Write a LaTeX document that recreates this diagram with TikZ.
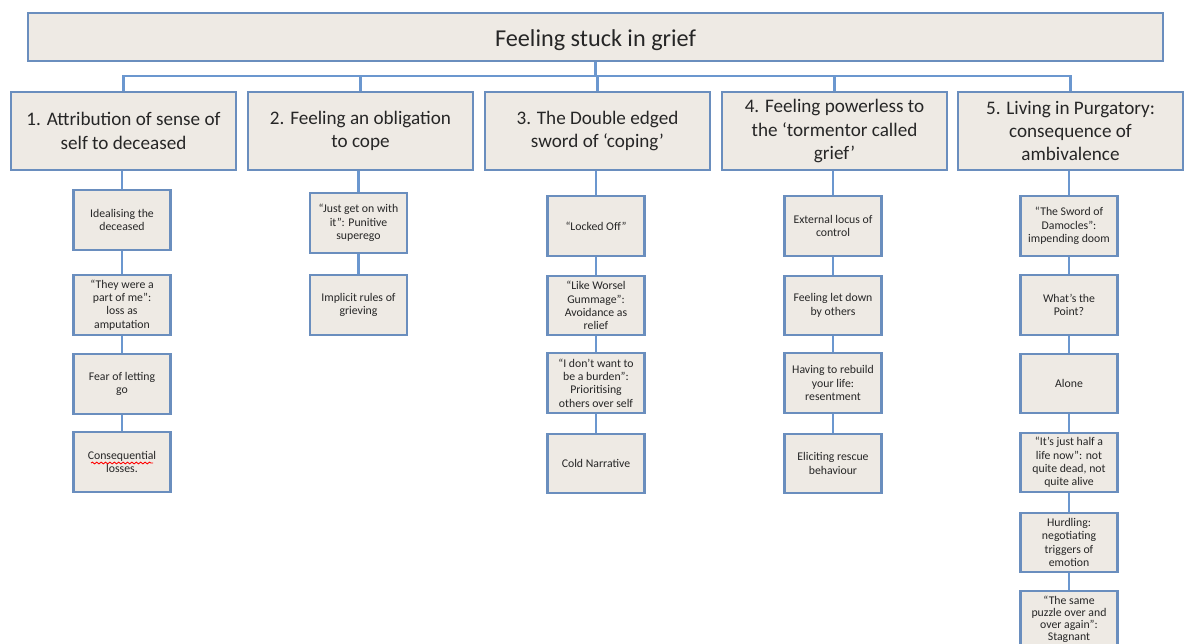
\documentclass[tikz,border=0pt]{standalone}
\usepackage{fontspec}
\setmainfont{Carlito}
\usetikzlibrary{decorations.pathmorphing}
\definecolor{caixa}{HTML}{EEEAE4}
\definecolor{borda}{HTML}{6A8EBE}
\definecolor{ligacao}{HTML}{6B97CF}
\begin{document}
\begin{tikzpicture}[x=0.02cm, y=-0.02cm,
  box/.style={draw=borda, line width=1.4pt, fill=caixa, inner sep=0pt, align=center, text=black!85},
  tema/.style={box, minimum width=4.5cm, minimum height=1.56cm, font=\fontsize{10.9}{13.3}\selectfont},
  sub/.style={box, minimum width=1.94cm, minimum height=1.19cm, font=\fontsize{6.7}{7.6}\selectfont},
  link/.style={draw=ligacao, line width=1.2pt}]
\clip (0,0) rectangle (1191,643);
% Titulo
\node[box, minimum width=22.7cm, minimum height=0.96cm, text height=12pt, text depth=1pt,
  font=\fontsize{13.8}{16}\selectfont] (top) at (595.5,37) {Feeling stuck in grief};
% Temas
\node[tema] (c1) at (123.5,131) {1. Attribution of sense of\\self to deceased};
\node[tema] (c2) at (360.5,131) {2. Feeling an obligation\\to cope};
\node[tema] (c3) at (597.5,131) {3. The Double edged\\sword of ‘coping’};
\node[tema] (c4) at (834.5,131) {4. Feeling powerless to\\the ‘tormentor called\\grief’};
\node[tema] (c5) at (1070.5,131) {5. Living in Purgatory:\\consequence of\\ambivalence};
\foreach \c in {c1,c2,c3,c4,c5}
  \draw[link] (top.south) -- ++(0,14) -| (\c.north);
% Coluna 1
\node[sub] (a1) at (122,220) {Idealising the\\deceased};
\node[sub] (a2) at (122,305) {“They were a\\part of me”:\\loss as\\amputation};
\node[sub] (a3) at (122,384) {Fear of letting\\go};
\node[sub] (a4) at (122,462) {Consequential\\losses.};
\draw[red, line width=0.5pt, decorate, decoration={snake, amplitude=0.5pt, segment length=2.5pt}]
  ([shift={(-31,1)}]a4.center) -- ([shift={(31,1)}]a4.center);
% Coluna 2
\node[sub] (b1) at (358.5,223) {“Just get on with\\it”: Punitive\\superego};
\node[sub] (b2) at (358.5,305) {Implicit rules of\\grieving};
% Coluna 3
\node[sub] (d1) at (596,226) {“Locked Off”};
\node[sub] (d2) at (596,305.5) {“Like Worsel\\Gummage”:\\Avoidance as\\relief};
\node[sub] (d3) at (596,383) {“I don’t want to\\be a burden”:\\Prioritising\\others over self};
\node[sub] (d4) at (596,463.5) {Cold Narrative};
% Coluna 4
\node[sub] (e1) at (833,226) {External locus of\\control};
\node[sub] (e2) at (833,305.5) {Feeling let down\\by others};
\node[sub] (e3) at (833,383) {Having to rebuild\\your life:\\resentment};
\node[sub] (e4) at (833,463.5) {Eliciting rescue\\behaviour};
% Coluna 5
\node[sub] (f1) at (1069,226) {“The Sword of\\Damocles”:\\impending doom};
\node[sub] (f2) at (1069,305) {What’s the\\Point?};
\node[sub] (f3) at (1069,383.5) {Alone};
\node[sub] (f4) at (1069,462.5) {“It’s just half a\\life now”: not\\quite dead, not\\quite alive};
\node[sub] (f5) at (1069,542.5) {Hurdling:\\negotiating\\triggers of\\emotion};
\node[sub] (f6) at (1069,621) {};
\node[anchor=north, align=center, inner sep=0pt, text=black!85, font=\fontsize{6.7}{6.9}\selectfont]
  (f6t) at ([yshift=-3]f6.north) {“The same\\puzzle over and\\over again”:\\Stagnant};
% Ligacoes
\foreach \a/\b in {c1/a1,a1/a2,a2/a3,a3/a4,c2/b1,b1/b2,c3/d1,d1/d2,d2/d3,d3/d4,
  c4/e1,e1/e2,e2/e3,e3/e4,c5/f1,f1/f2,f2/f3,f3/f4,f4/f5,f5/f6}
  \draw[link] (\b.north |- \a.south) -- (\b.north);
\end{tikzpicture}
\end{document}
